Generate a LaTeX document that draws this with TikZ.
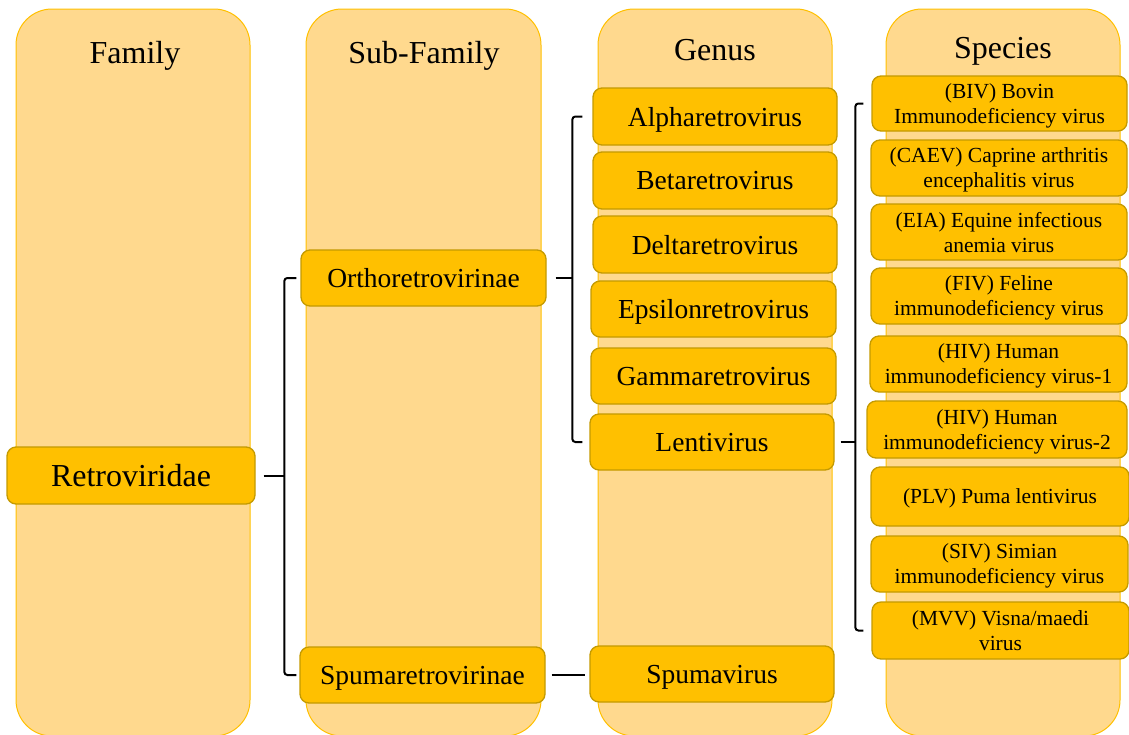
\documentclass[tikz,border=0pt]{standalone}
\usepackage{fontspec}
\setmainfont{Liberation Serif}
\definecolor{panelfill}{HTML}{FFD98E}
\definecolor{panelline}{HTML}{FFC000}
\definecolor{boxfill}{HTML}{FFC000}
\definecolor{boxline}{HTML}{C49A00}
\begin{document}
\begin{tikzpicture}[x=1pt,y=-1pt,
  panel/.style={fill=panelfill,draw=panelline,line width=1pt,rounded corners=36pt},
  hdr/.style={font=\fontsize{32}{36}\selectfont,inner sep=0pt,text depth=0pt},
  gbox/.style={draw=boxline,fill=boxfill,line width=1.3pt,rounded corners=9pt,inner sep=0pt,text depth=0pt,align=center,font=\fontsize{27.5}{32}\selectfont},
  sbox/.style={gbox,font=\fontsize{21.5}{25}\selectfont},
  brk/.style={draw=black,line width=2pt,rounded corners=3pt}]
\useasboundingbox (0,0) rectangle (1129,734);
% panels
\draw[panel] (16,9) rectangle (250,736);
\draw[panel] (306,9) rectangle (541,736);
\draw[panel] (598,9) rectangle (832,736);
\draw[panel] (886,9) rectangle (1120,736);
% headers
\node[hdr] (hfam) at (135,52) {Family};
\node[hdr] (hsub) at (424,52) {Sub-Family};
\node[hdr] (hgen) at (715,50) {Genus};
\node[hdr] (hspe) at (1003,48) {Species};
% family & subfamily
\node[gbox,minimum width=248,minimum height=57,font=\fontsize{32}{36}\selectfont] (retro) at (131,475.5) {Retroviridae};
\node[gbox,minimum width=245,minimum height=56] (ortho) at (423.5,278) {Orthoretrovirinae};
\node[gbox,minimum width=245,minimum height=56] (spumaS) at (422.5,675) {Spumaretrovirinae};
% genus
\node[gbox,minimum width=244,minimum height=57] (alpha) at (715,116.5) {Alpharetrovirus};
\node[gbox,minimum width=244,minimum height=57] (beta) at (715,180.5) {Betaretrovirus};
\node[gbox,minimum width=244,minimum height=57] (delta) at (715,244.5) {Deltaretrovirus};
\node[gbox,minimum width=245,minimum height=56] (eps) at (713.5,309) {Epsilonretrovirus};
\node[gbox,minimum width=245,minimum height=56] (gamma) at (713.5,376) {Gammaretrovirus};
\node[gbox,minimum width=244,minimum height=56] (lenti) at (712,442) {Lentivirus};
\node[gbox,minimum width=244,minimum height=56] (spumav) at (712,674) {Spumavirus};
% species
\node[sbox,minimum width=255,minimum height=55] (biv) at (999.5,103.5) {(BIV) Bovin\\Immunodeficiency virus};
\node[sbox,minimum width=256,minimum height=56] (caev) at (999,168) {(CAEV) Caprine arthritis\\encephalitis virus};
\node[sbox,minimum width=256,minimum height=56] (eia) at (999,232) {(EIA) Equine infectious\\anemia virus};
\node[sbox,minimum width=256,minimum height=56] (fiv) at (999,296) {(FIV) Feline\\immunodeficiency virus};
\node[sbox,minimum width=257,minimum height=56] (hiv1) at (998.5,364) {(HIV) Human\\immunodeficiency virus-1};
\node[sbox,minimum width=260,minimum height=57] (hiv2) at (997,429.5) {(HIV) Human\\immunodeficiency virus-2};
\node[sbox,minimum width=258,minimum height=59] (plv) at (1000,496.5) {(PLV) Puma lentivirus};
\node[sbox,minimum width=257,minimum height=56] (siv) at (999.5,564) {(SIV) Simian\\immunodeficiency virus};
\node[sbox,minimum width=257,minimum height=57] (mvv) at (1000.5,630.5) {(MVV) Visna/maedi\\virus};
% brackets
\coordinate (s1) at ([xshift=-16]ortho.west);
\draw[brk] ([xshift=-4]ortho.west) -- (s1) -- (s1 |- spumaS.west) -- ([xshift=-3]spumaS.west);
\draw[brk] ([xshift=8]retro.east) -- (retro.east -| s1);
\coordinate (s2) at ([xshift=-20]alpha.west);
\draw[brk] ([xshift=-10]alpha.west) -- (s2) -- (s2 |- lenti.west) -- ([xshift=-7]lenti.west);
\draw[brk] ([xshift=9]ortho.east) -- (ortho.east -| s2);
\coordinate (s3) at ([xshift=-16]biv.west);
\draw[brk] ([xshift=-8]biv.west) -- (s3) -- (s3 |- mvv.west) -- ([xshift=-8]mvv.west);
\draw[brk] ([xshift=6]lenti.east) -- (lenti.east -| s3);
\coordinate (s4) at ([xshift=-4]spumav.west);
\draw[brk] ([xshift=6]spumaS.east) -- (spumaS.east -| s4);
\end{tikzpicture}
\end{document}
